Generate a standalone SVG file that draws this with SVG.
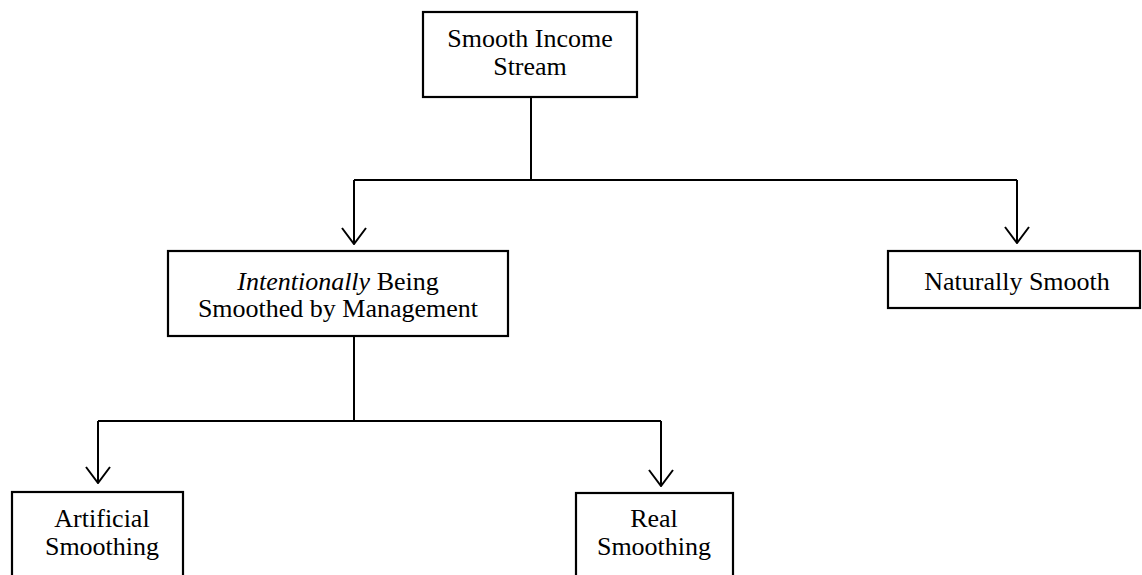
<svg xmlns="http://www.w3.org/2000/svg" width="1142" height="575" viewBox="0 0 1142 575">
  <defs>
    <!-- open chevron; +x runs along the line direction, tip at the line end -->
    <marker id="arrow" viewBox="0 0 18 26" refX="17" refY="13" markerWidth="18" markerHeight="26" markerUnits="userSpaceOnUse" orient="auto">
      <path d="M1,1 L17,13 L1,25" fill="none" stroke="#000" stroke-width="2"/>
    </marker>
  </defs>
  <style>
    .box { fill: #fff; stroke: #000; stroke-width: 2.2; }
    .label { font-family: "Liberation Serif", "Times New Roman", serif; font-size: 26px; fill: #000; text-anchor: middle; }
    .it { font-style: italic; }
    .wire { fill: none; stroke: #000; stroke-width: 2; }
  </style>
  <rect width="1142" height="575" fill="#fff"/>

  <g id="connectors">
    <path class="wire" d="M531,97 V180"/>
    <path class="wire" d="M354,180 H1017"/>
    <path class="wire" d="M354,180 V244" marker-end="url(#arrow)"/>
    <path class="wire" d="M1017,180 V243" marker-end="url(#arrow)"/>
    <path class="wire" d="M354,336 V421"/>
    <path class="wire" d="M98,421 H661"/>
    <path class="wire" d="M98,421 V483" marker-end="url(#arrow)"/>
    <path class="wire" d="M661,421 V486" marker-end="url(#arrow)"/>
  </g>

  <g id="smooth-income-stream">
    <rect class="box" x="423" y="12" width="214" height="85"/>
    <text class="label" x="530" y="47">Smooth Income</text>
    <text class="label" x="530" y="75">Stream</text>
  </g>

  <g id="intentionally-smoothed">
    <rect class="box" x="168" y="251" width="340" height="85"/>
    <text class="label" x="338" y="290"><tspan class="it">Intentionally</tspan> Being</text>
    <text class="label" x="338" y="317">Smoothed by Management</text>
  </g>

  <g id="naturally-smooth">
    <rect class="box" x="888" y="251" width="252" height="57"/>
    <text class="label" x="1017" y="290">Naturally Smooth</text>
  </g>

  <g id="artificial-smoothing">
    <rect class="box" x="12" y="492" width="171" height="90"/>
    <text class="label" x="102" y="527">Artificial</text>
    <text class="label" x="102" y="555">Smoothing</text>
  </g>

  <g id="real-smoothing">
    <rect class="box" x="576" y="493" width="157" height="90"/>
    <text class="label" x="654" y="527">Real</text>
    <text class="label" x="654" y="555">Smoothing</text>
  </g>
</svg>
